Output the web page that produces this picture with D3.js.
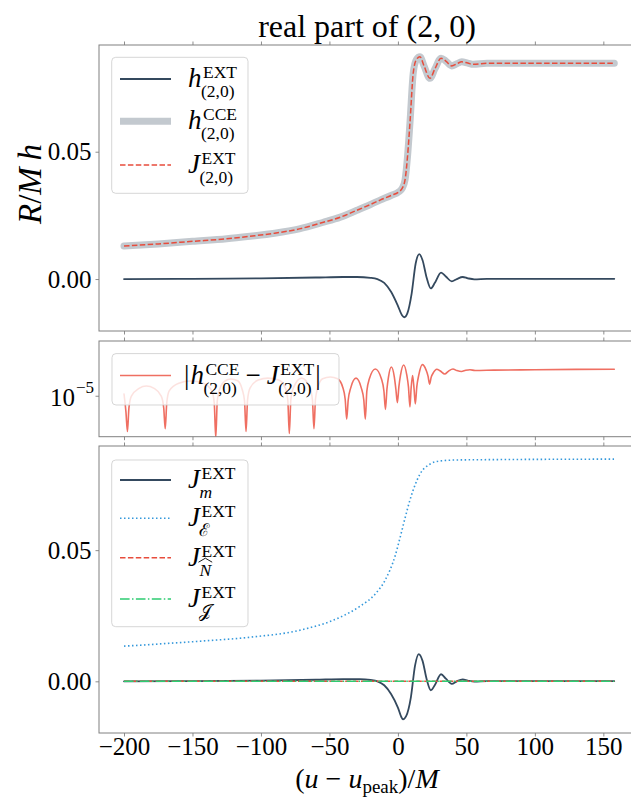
<!DOCTYPE html>
<html><head><meta charset="utf-8">
<script src="https://cdn.jsdelivr.net/npm/d3@7"></script>
<style>body{margin:0;background:#fff;} svg{display:block}</style>
</head><body><svg id="c" width="631" height="797"></svg>
<script>
// ---------------- DATA ----------------
const xTicks = [-200, -150, -100, -50, 0, 50, 100, 150];
const topYTicks = [0.00, 0.05];
const midYTicks = [1e-5];
const botYTicks = [0.00, 0.05];

// panel 1 : h^EXT_(2,0)
const hExt = [[-200,0.0000],[-150,0.0001],[-100,0.0003],[-60,0.0006],[-40,0.0008],[-30,0.0008],[-20,0.0005],[-15,0.0000],[-10,-0.0015],[-5,-0.0050],[0,-0.0105],[3,-0.0142],[4.7,-0.0150],[7,-0.0133],[10,-0.0058],[13,0.0062],[15.6,0.0098],[18,0.0074],[21,0.0005],[24,-0.0037],[27,-0.0015],[31.5,0.0025],[35,0.0010],[39.3,-0.0009],[43,0.0000],[47.3,0.0008],[51,0.0003],[55.8,-0.0001],[65,0.0001],[100,0.0001],[158,0.0001]];
// panel 1 : h^CCE_(2,0)
const hCce = [[-200,0.0130],[-175,0.0138],[-150,0.0148],[-125,0.0158],[-108,0.0168],[-90,0.0180],[-72,0.0197],[-55,0.0222],[-42,0.0243],[-30,0.0270],[-20,0.0293],[-13,0.0310],[-5,0.0328],[0.8,0.0343],[3,0.0355],[5.2,0.0389],[7,0.0480],[8.8,0.0613],[11.2,0.0809],[13.5,0.0862],[16.1,0.0873],[19,0.0838],[23.4,0.0788],[27,0.0825],[31.5,0.0867],[35,0.0856],[39.3,0.0837],[43,0.0845],[46.6,0.0853],[51,0.0848],[55.1,0.0843],[65,0.0847],[100,0.0847],[158,0.0847]];
// panel 1 : J^EXT_(2,0)
const jExt = [[-200,0.0130],[-175,0.0138],[-150,0.0148],[-125,0.0158],[-108,0.0168],[-90,0.0180],[-72,0.0197],[-55,0.0222],[-42,0.0243],[-30,0.0270],[-20,0.0293],[-13,0.0310],[-5,0.0328],[0.8,0.0343],[3,0.0355],[5.2,0.0389],[7,0.0480],[8.8,0.0613],[11.2,0.0809],[13.5,0.0862],[16.1,0.0873],[19,0.0838],[23.4,0.0788],[27,0.0825],[31.5,0.0867],[35,0.0856],[39.3,0.0837],[43,0.0845],[46.6,0.0853],[51,0.0848],[55.1,0.0843],[65,0.0847],[100,0.0847],[158,0.0847]];
// panel 2 : |h^CCE - J^EXT|
const diffAbs = [[-200,1.05e-5],[-198.6,6.5e-6],[-197.5,3.8e-6],[-196.4,7.2e-6],[-194.6,9.9e-6],[-189,1.22e-5],[-183.7,1.30e-5],[-178,1.22e-5],[-172.8,9.9e-6],[-171.0,7.2e-6],[-169.9,4.1e-6],[-168.8,8.2e-6],[-167.0,1.14e-5],[-160,1.40e-5],[-151.5,1.49e-5],[-142,1.40e-5],[-135.9,1.14e-5],[-134.1,8.2e-6],[-133.0,3.2e-6],[-131.9,8.7e-6],[-130.1,1.20e-5],[-126,1.50e-5],[-122,1.57e-5],[-117,1.50e-5],[-113.8,1.20e-5],[-112.0,8.7e-6],[-110.9,3.8e-6],[-109.8,8.9e-6],[-108.0,1.23e-5],[-102,1.53e-5],[-95,1.61e-5],[-87,1.53e-5],[-82.2,1.23e-5],[-80.4,8.9e-6],[-79.3,3.6e-6],[-78.2,8.9e-6],[-76.4,1.23e-5],[-70.3,1.61e-5],[-64.2,1.23e-5],[-62.4,8.9e-6],[-61.3,4.1e-6],[-60.2,9.1e-6],[-58.4,1.26e-5],[-55,1.58e-5],[-49.4,1.66e-5],[-44,1.58e-5],[-40.3,1.26e-5],[-38.5,9.1e-6],[-37.4,5.3e-6],[-36.3,8.9e-6],[-34.5,1.23e-5],[-30.6,1.61e-5],[-26.7,1.23e-5],[-24.9,8.9e-6],[-23.8,5.3e-6],[-22.7,1.13e-5],[-20.9,1.57e-5],[-16.5,2.06e-5],[-12.0,1.57e-5],[-10.2,1.13e-5],[-9.1,6.9e-6],[-8.0,1.20e-5],[-6.9,1.66e-5],[-4.8,2.18e-5],[-2.6,1.66e-5],[-1.5,1.20e-5],[-0.4,8.3e-6],[0.7,1.27e-5],[1.9,1.75e-5],[4.2,2.30e-5],[6.5,1.75e-5],[7.7,1.27e-5],[8.8,7.4e-6],[9.6,1.2e-5],[10.7,1.73e-5],[11.8,1.2e-5],[12.7,8.0e-6],[13.8,1.28e-5],[15.3,1.77e-5],[17.8,2.32e-5],[20.6,2.0e-5],[22.0,1.7e-5],[23.1,1.37e-5],[24.3,1.65e-5],[26,1.88e-5],[28.3,2.05e-5],[31,1.95e-5],[34.2,1.80e-5],[37,1.95e-5],[40.2,2.06e-5],[43,1.98e-5],[46.4,1.93e-5],[49.5,1.99e-5],[52.6,2.02e-5],[56.3,1.98e-5],[70,2.0e-5],[100,2.02e-5],[130,2.04e-5],[158,2.05e-5]];
// panel 3 contributions
const jM = [[-200,0.0000],[-150,0.0001],[-100,0.0003],[-60,0.0006],[-40,0.0008],[-28,0.0008],[-20,0.0005],[-15,0.0000],[-10,-0.0015],[-5,-0.0048],[0,-0.0100],[2.5,-0.0136],[3.7,-0.0145],[6,-0.0133],[9.5,-0.0060],[12.5,0.0060],[15.2,0.0104],[18,0.0078],[21,0.0008],[24,-0.0034],[27,-0.0014],[31.5,0.0027],[35,0.0010],[39.3,-0.0010],[43,0.0000],[47.3,0.0007],[51,0.0003],[55.8,-0.0001],[65,0.0001],[100,0.0001],[158,0.0001]];
const jE = [[-200,0.0134],[-144.5,0.0153],[-108,0.0168],[-71.5,0.0195],[-42.3,0.0244],[-27.7,0.0286],[-16.7,0.0332],[-9.4,0.0385],[-2.1,0.0477],[1.5,0.0546],[5.2,0.0622],[8.8,0.0691],[12.5,0.0748],[16.1,0.0790],[23.4,0.0828],[30.7,0.0840],[45.3,0.0844],[157.8,0.0847]];
const jN = [[-200,0],[-100,0],[0,0],[100,0],[158,0]];
const jJ = [[-200,0],[-100,0],[0,0],[100,0],[158,0]];

// ---------------- STYLE / LAYOUT ----------------
const SERIF = "'Liberation Serif','DejaVu Serif',serif";
const C_DARK = "#34495e", C_GRAY = "#c3c9cf", C_RED = "#e74c3c", C_BLUE = "#3498db", C_GREEN = "#2ecc71", C_DIFF = "#ef6f62";
const SPINE = "#808080";
const TICKFS = 25;
const L = 99, R = 641;
const P1 = {top:45, bottom:331}, P2 = {top:341, bottom:436.7}, P3 = {top:446, bottom:733};

const svg = d3.select("#c");
const x = d3.scaleLinear().domain([-218.26, 177.5]).range([L, R]);
const y1 = d3.scaleLinear().domain([-0.0204, 0.0919]).range([P1.bottom, P1.top]);
const y2 = d3.scaleLog().domain([3.30e-6, 4.40e-5]).range([P2.bottom, P2.top]);
const y3 = d3.scaleLinear().domain([-0.0197, 0.0897]).range([P3.bottom, P3.top]);

const defs = svg.append("defs");
[[P1,"c1"],[P2,"c2"],[P3,"c3"]].forEach(([p,id]) => {
  defs.append("clipPath").attr("id", id).append("rect")
    .attr("x", L).attr("y", p.top).attr("width", R-L).attr("height", p.bottom-p.top);
});

function lineGen(ys){ return d3.line().x(d=>x(d[0])).y(d=>ys(d[1])).curve(d3.curveMonotoneX); }

function drawLine(g, data, ys, color, width, dash, clip){
  g.append("path").datum(data).attr("d", lineGen(ys))
    .attr("fill","none").attr("stroke",color).attr("stroke-width",width)
    .attr("stroke-dasharray", dash || null).attr("stroke-linecap", dash ? "butt" : "round")
    .attr("stroke-linejoin","round").attr("clip-path", `url(#${clip})`);
}

function frame(p, ys, yTicks, yFmt, showX){
  const g = svg.append("g");
  g.append("g").attr("transform",`translate(0,${p.top})`)
    .call(d3.axisTop(x).tickValues(xTicks).tickSize(3.5).tickFormat(""))
    .call(a=>a.select(".domain").remove());
  g.append("g").attr("transform",`translate(0,${p.bottom})`)
    .call(d3.axisBottom(x).tickValues(xTicks).tickSize(3.5).tickPadding(1).tickFormat(showX ? d3.format("d") : ""))
    .call(a=>a.select(".domain").remove());
  g.append("g").attr("transform",`translate(${L},0)`)
    .call(d3.axisLeft(ys).tickValues(yTicks).tickSize(3.5).tickPadding(4).tickFormat(yFmt ? yFmt : ""))
    .call(a=>a.select(".domain").remove());
  g.selectAll(".tick line").attr("stroke", SPINE).attr("stroke-width", 0.9);
  g.selectAll(".tick text").attr("font-family", SERIF).attr("font-size", TICKFS).attr("fill","#000");
  g.append("rect").attr("x",L).attr("y",p.top).attr("width",R-L).attr("height",p.bottom-p.top)
    .attr("fill","none").attr("stroke",SPINE).attr("stroke-width",1);
  return g;
}

// ---------------- PANEL 1 ----------------
const g1 = svg.append("g");
drawLine(g1, hExt, y1, C_DARK, 1.8, null, "c1");
drawLine(g1, hCce, y1, C_GRAY, 7, null, "c1");
drawLine(g1, jExt, y1, C_RED, 1.5, "5.5,2.4", "c1");
frame(P1, y1, topYTicks, d3.format(".2f"), false);

// ---------------- PANEL 2 ----------------
const g2 = svg.append("g");
drawLine(g2, diffAbs, y2, C_DIFF, 1.6, null, "c2");
frame(P2, y2, midYTicks, null, false);
midYTicks.forEach(v => {
  const ty = y2(v);
  svg.append("text").attr("x", 75).attr("y", ty + 10).attr("text-anchor","end")
    .attr("font-family",SERIF).attr("font-size",TICKFS).text("10");
  svg.append("text").attr("x", 76).attr("y", ty - 3).attr("font-family",SERIF).attr("font-size",17).text("\u22125");
});

// ---------------- PANEL 3 ----------------
const g3 = svg.append("g");
drawLine(g3, jM, y3, C_DARK, 1.8, null, "c3");
drawLine(g3, jE, y3, C_BLUE, 1.6, "1.5,2.5", "c3");
drawLine(g3, jN, y3, C_RED, 1.5, "5.5,2.4", "c3");
drawLine(g3, jJ, y3, C_GREEN, 1.5, "9.6,2.4,1.5,2.4", "c3");
frame(P3, y3, botYTicks, d3.format(".2f"), true);

// ---------------- MATH TEXT HELPERS ----------------
const BASE = 27, SCR = 17.5;
function txt(x0, y0, s, size, italic){
  return svg.append("text").attr("x",x0).attr("y",y0).attr("font-family",SERIF)
    .attr("font-size",size).attr("font-style", italic ? "italic" : "normal").attr("fill","#000").text(s);
}
function term(x0, bl, base, baseItalic, sup, sub, subItalic, hat){
  const b = txt(x0, bl, base, BASE, baseItalic);
  const w = b.node().getComputedTextLength();
  const sp = txt(x0 + w + 1.5, bl - 9, sup, SCR, false);
  const sb = txt(x0 + w - 0.5, bl + 10, sub, SCR, subItalic);
  const sw = sb.node().getComputedTextLength();
  if (hat){
    const hx = x0 + w - 0.5, hy = bl + 10 - 13.5;
    svg.append("path").attr("d", `M${hx-1},${hy} L${hx+sw/2},${hy-4} L${hx+sw+1},${hy}`)
      .attr("fill","none").attr("stroke","#000").attr("stroke-width",0.9);
  }
  return x0 + w + Math.max(sp.node().getComputedTextLength() + 1.5, sw - 0.5);
}
function legendBox(x0, y0, w, h){
  svg.append("rect").attr("x",x0).attr("y",y0).attr("width",w).attr("height",h).attr("rx",4)
    .attr("fill","#fff").attr("fill-opacity",0.8).attr("stroke","#cccccc").attr("stroke-opacity",0.8);
}
function legendSample(yc, color, width, dash){
  svg.append("line").attr("x1",120).attr("x2",171).attr("y1",yc).attr("y2",yc)
    .attr("stroke",color).attr("stroke-width",width).attr("stroke-dasharray",dash||null);
}

// legend 1
legendBox(111.7, 57.3, 136.3, 136);
legendSample(79, C_DARK, 1.8);
legendSample(121.3, C_GRAY, 7);
legendSample(165, C_RED, 1.5, "5.5,2.4");
term(188, 79+8, "h", true, "EXT", "(2,0)", false);
term(188, 121.3+8, "h", true, "CCE", "(2,0)", false);
term(188, 165+8, "J", true, "EXT", "(2,0)", false);

// legend 2
legendBox(112, 353.6, 227, 51.4);
legendSample(375.5, C_DIFF, 1.6);
{
  let cx = 184;
  const bar = txt(cx, 375.5+8, "|", BASE, false); cx += bar.node().getComputedTextLength() + 1;
  cx = term(cx, 375.5+8, "h", true, "CCE", "(2,0)", false);
  const m = txt(cx + 6, 375.5+8, "\u2212", BASE, false); cx += 6 + m.node().getComputedTextLength() + 6;
  cx = term(cx, 375.5+8, "J", true, "EXT", "(2,0)", false);
  txt(cx + 1, 375.5+8, "|", BASE, false);
}

// legend 3
legendBox(111.7, 460, 136.3, 166.7);
legendSample(480, C_DARK, 1.8);
legendSample(518.3, C_BLUE, 1.6, "1.5,2.5");
legendSample(557.7, C_RED, 1.5, "5.5,2.4");
legendSample(599, C_GREEN, 1.5, "9.6,2.4,1.5,2.4");
term(188, 480+8, "J", true, "EXT", "m", true);
term(188, 518.3+8, "J", true, "EXT", "\u2130", false);
term(188, 557.7+8, "J", true, "EXT", "N", true, true);
term(188, 599+8, "J", true, "EXT", "\uD835\uDCA5", false);

// ---------------- TITLE & AXIS LABELS ----------------
svg.append("text").attr("x", 367).attr("y", 37).attr("text-anchor","middle")
  .attr("font-family",SERIF).attr("font-size",32).text("real part of (2, 0)");

const yl = svg.append("text").attr("transform","translate(41,184) rotate(-90)").attr("text-anchor","middle")
  .attr("font-family",SERIF).attr("font-size",33);
yl.append("tspan").attr("font-style","italic").text("R");
yl.append("tspan").text("/");
yl.append("tspan").attr("font-style","italic").text("M");
yl.append("tspan").text("\u2009");
yl.append("tspan").attr("font-style","italic").text("h");

const xl = svg.append("text").attr("x", 367).attr("y", 788).attr("text-anchor","middle")
  .attr("font-family",SERIF).attr("font-size",28);
xl.append("tspan").text("(");
xl.append("tspan").attr("font-style","italic").text("u");
xl.append("tspan").text(" \u2212 ");
xl.append("tspan").attr("font-style","italic").text("u");
xl.append("tspan").attr("font-size",19).attr("dy",5).text("peak");
xl.append("tspan").attr("dy",-5).text(")/");
xl.append("tspan").attr("font-style","italic").text("M");
</script></body></html>
